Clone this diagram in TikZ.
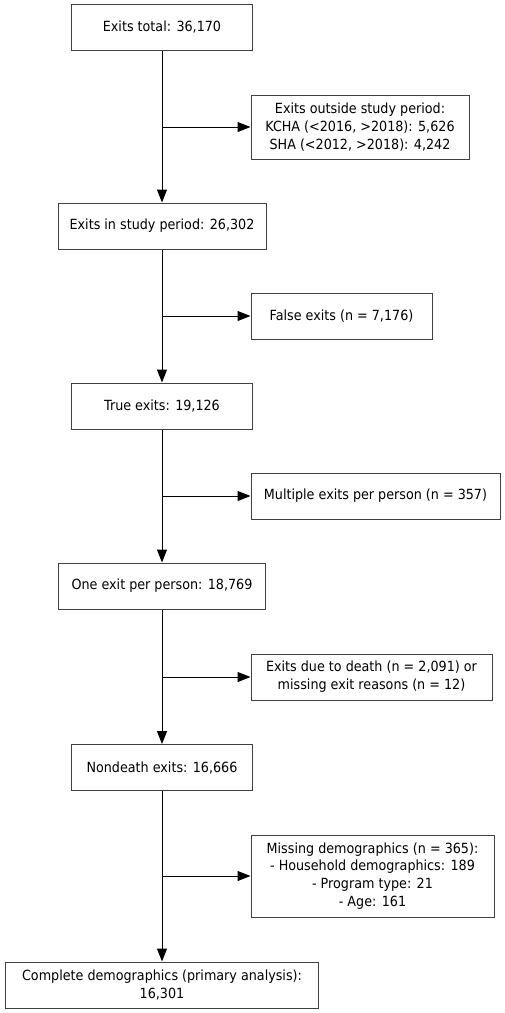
\documentclass[tikz,border=0pt]{standalone}
\usepackage{fontspec}
\setmainfont{DejaVu Sans}[FakeStretch=0.91]
\usetikzlibrary{arrows.meta}
\begin{document}
\begin{tikzpicture}[x=1pt,y=-1pt,
  box/.style={draw=black!75,line width=1pt,fill=white,inner sep=0pt,align=center,
    font=\fontsize{14}{17.8}\selectfont,minimum height=46pt},
  conn/.style={draw=black,line width=1pt,-{Triangle[length=13pt,width=10pt]}}]
\useasboundingbox (0,0) rectangle (504,1013);
\node[box,minimum width=181pt] (n1) at (162,27) {Exits total: 36,170};
\node[box,minimum width=218pt,minimum height=64pt] (o1) at (360,127) {Exits outside study period:\\KCHA (<2016, >2018): 5,626\\SHA (<2012, >2018): 4,242};
\node[box,minimum width=208pt] (n2) at (162,226) {Exits in study period: 26,302};
\node[box,minimum width=181pt] (o2) at (341.5,316) {False exits (n = 7,176)};
\node[box,minimum width=181pt] (n3) at (162,406) {True exits: 19,126};
\node[box,minimum width=249pt] (o3) at (375.5,496) {Multiple exits per person (n = 357)};
\node[box,minimum width=207pt] (n4) at (162,586) {One exit per person: 18,769};
\node[box,minimum width=241pt] (o4) at (371.5,677) {Exits due to death (n = 2,091) or\\missing exit reasons (n = 12)};
\node[box,minimum width=181pt] (n5) at (162,767.5) {Nondeath exits: 16,666};
\node[box,minimum width=243pt,minimum height=82pt] (o5) at (372.5,876) {Missing demographics (n = 365):\\- Household demographics: 189\\- Program type: 21\\- Age: 161};
\node[box,minimum width=313pt] (n6) at (162,985) {Complete demographics (primary analysis):\\16,301};
\foreach \a/\b in {n1/n2,n2/n3,n3/n4,n4/n5,n5/n6}{
  \draw[conn] (\a.south) -- (\b.north);
}
\coordinate (b1) at (n1.south |- o1.west);
\coordinate (b2) at (n2.south |- o2.west);
\coordinate (b3) at (n3.south |- o3.west);
\coordinate (b4) at (n4.south |- o4.west);
\coordinate (b5) at (n5.south |- o5.west);
\foreach \i in {1,...,5}{
  \draw[conn] (b\i) -- (o\i.west);
}
\end{tikzpicture}
\end{document}
